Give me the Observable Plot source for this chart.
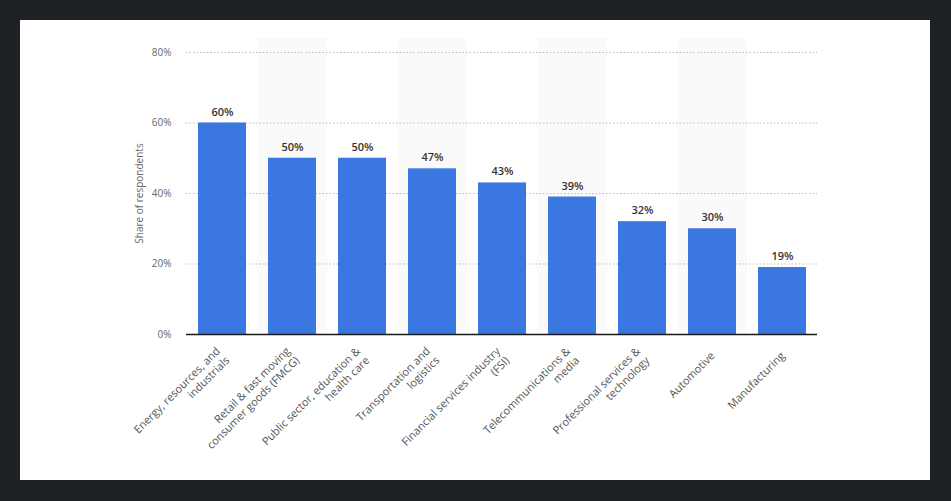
<!DOCTYPE html>
<html>
<head>
<meta charset="utf-8">
<script src="https://cdn.jsdelivr.net/npm/d3@7"></script>
<script src="https://cdn.jsdelivr.net/npm/@observablehq/plot@0.6"></script>
<style>
  html, body { margin: 0; padding: 0; background: #1e2226; }
  body { width: 951px; height: 501px; position: relative; overflow: hidden; }
  #panel { position: absolute; left: 20px; top: 20px; width: 910px; height: 460px; background: #fff; }
  svg { font-family: "Open Sans", "Noto Sans", sans-serif; }
</style>
</head>
<body>
<div id="panel"></div>
<script>
const categories = [
  "Energy, resources, and industrials",
  "Retail & fast moving consumer goods (FMCG)",
  "Public sector, education & health care",
  "Transportation and logistics",
  "Financial services industry (FSI)",
  "Telecommunications & media",
  "Professional services & technology",
  "Automotive",
  "Manufacturing"
];
const tickLabels = [
  "Energy, resources, and\nindustrials",
  "Retail & fast moving\nconsumer goods (FMCG)",
  "Public sector, education &\nhealth care",
  "Transportation and\nlogistics",
  "Financial services industry\n(FSI)",
  "Telecommunications &\nmedia",
  "Professional services &\ntechnology",
  "Automotive",
  "Manufacturing"
];
const values = [60, 50, 50, 47, 43, 39, 32, 30, 19];
const yTicks = [0, 20, 40, 60, 80];
const yLabel = "Share of respondents";

const data = categories.map((c, i) => ({category: c, value: values[i], index: i}));
const labelOf = new Map(categories.map((c, i) => [c, tickLabels[i]]));
const bands = data.filter(d => d.index % 2 === 1);

const chart = Plot.plot({
  width: 910,
  height: 460,
  marginLeft: 166,
  marginRight: 113,
  marginTop: 32,
  marginBottom: 146,
  style: {fontFamily: '"Open Sans", "Noto Sans", sans-serif', background: "transparent"},
  x: {domain: categories, padding: 0},
  y: {domain: [0, 80]},
  marks: [
    Plot.barY(bands, {x: "category", y1: 0, y2: 80, fill: "#fafafa", insetTop: -14}),
    Plot.gridY(yTicks.filter(t => t > 0), {stroke: "#bbb", strokeOpacity: 1, strokeDasharray: "1.5,2", strokeWidth: 1}),
    Plot.axisY(yTicks, {
      tickSize: 0, tickPadding: 15, tickFormat: d => d + "%",
      fontSize: 10, fill: "#666",
      label: yLabel, labelAnchor: "center", labelArrow: "none", labelOffset: 51
    }),
    Plot.barY(data, {x: "category", y: "value", fill: "#3b77e0", insetLeft: 11, insetRight: 11}),
    Plot.ruleY([0], {stroke: "#1a1a1a", strokeWidth: 1.3}),
    Plot.text(data, {x: "category", y: "value", text: d => d.value + "%", dy: -11, fontSize: 11, fontWeight: 600, fill: "#333"}),
    Plot.axisX({
      tickSize: 0, tickPadding: 19, tickRotate: -45, lineHeight: 1.2,
      tickFormat: d => labelOf.get(d), fontSize: 11, fill: "#555", label: null
    })
  ]
});
chart.querySelectorAll('[aria-label="y-axis label"] text').forEach(t => { t.setAttribute("fill", "#666"); t.setAttribute("font-size", "10"); });
document.getElementById("panel").appendChild(chart);
</script>
</body>
</html>
